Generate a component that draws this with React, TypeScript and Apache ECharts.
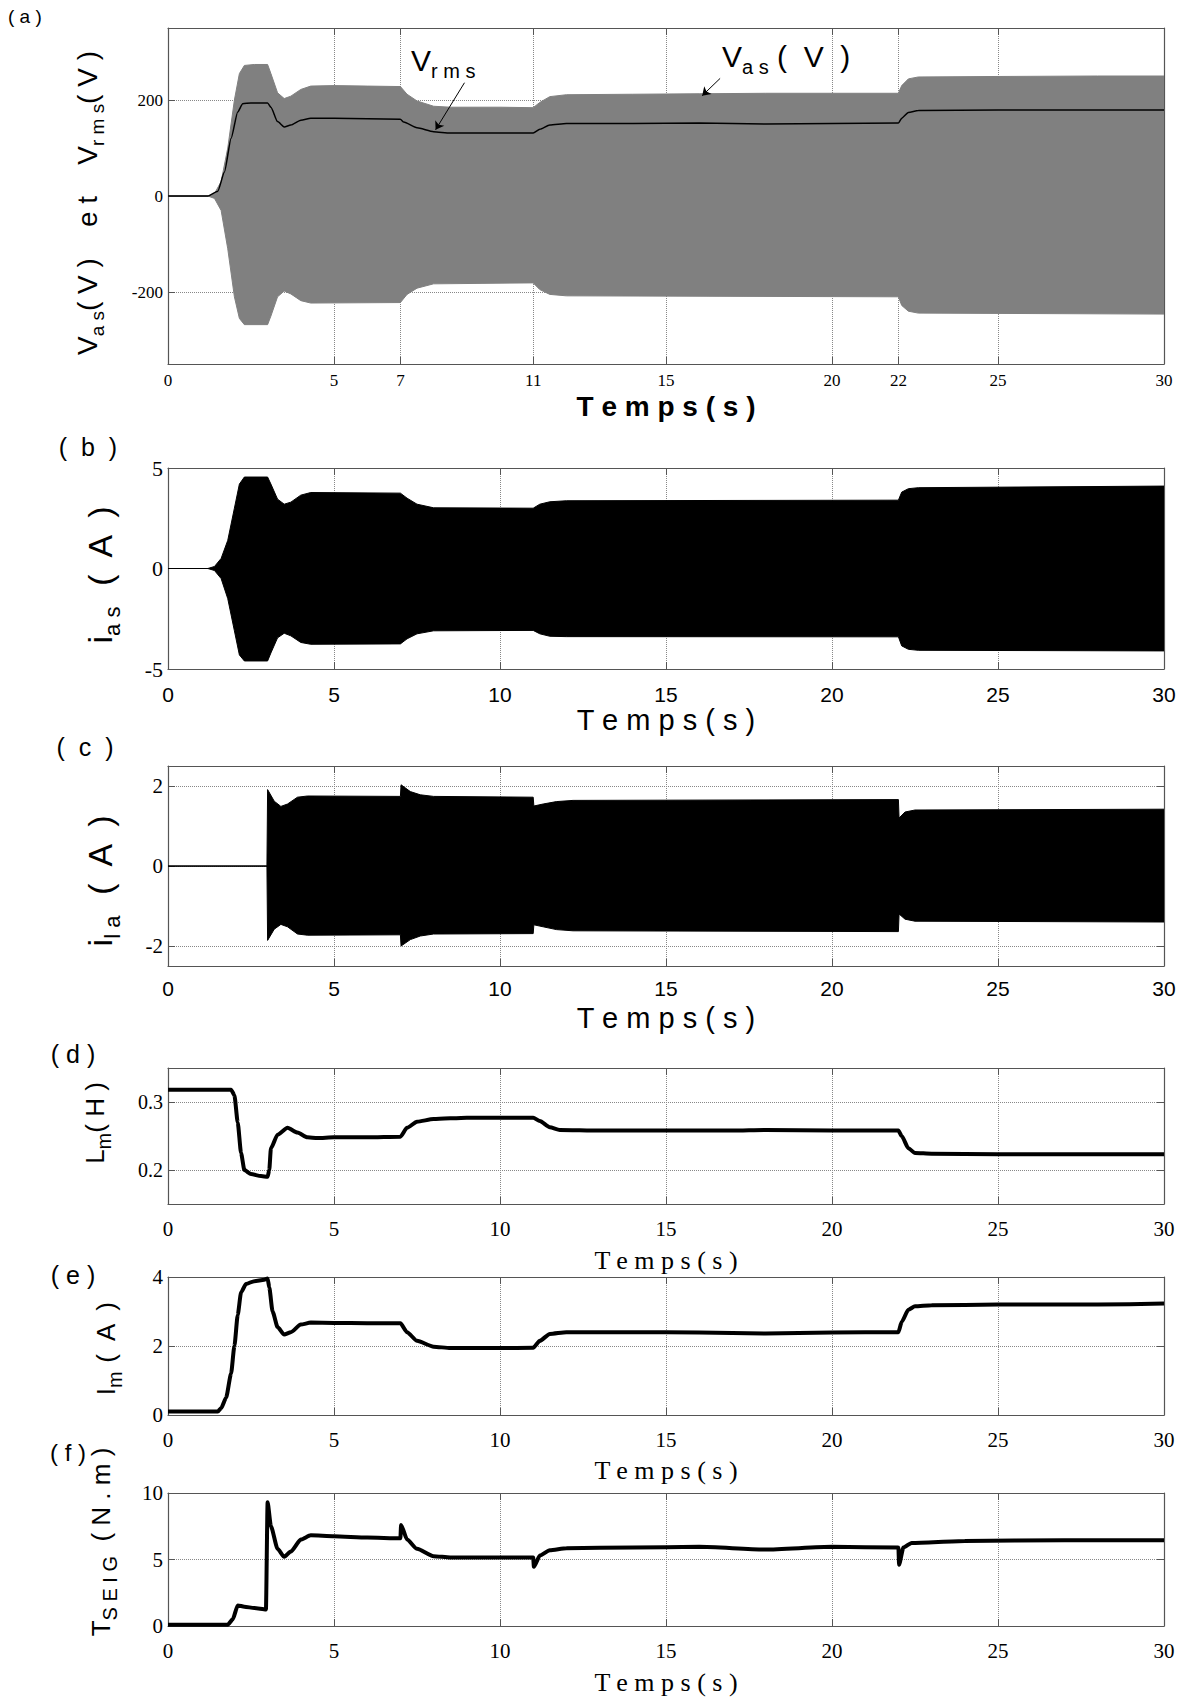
import React, { useEffect, useRef } from "react";
import * as echarts from "echarts";

// ---------- tick values ----------
const TIME_TICKS_A = [0, 5, 7, 11, 15, 20, 22, 25, 30];
const VAS_TICKS = [-200, 0, 200];
const ILA_TICKS = [-2, 0, 2];
const LM_TICKS = [0.2, 0.3];

// ---------- (a) stator voltage envelope + rms ----------
const VAS_UPPER: [number, number][] = [
  [0, 0], [1.2, 0], [1.4, 5], [1.6, 30], [1.8, 100], [2.0, 200], [2.15, 255], [2.3, 272], [2.6, 274], [3.0, 274],
  [3.1, 255], [3.3, 215], [3.5, 203], [3.7, 208], [4.0, 222], [4.3, 229], [5, 230], [6, 229], [7, 228],
  [7.2, 212], [7.5, 198], [8.0, 187], [8.5, 185], [10, 185], [11, 184], [11.2, 195], [11.5, 207], [12, 211],
  [14, 212], [16, 213], [18, 214], [20, 214], [22, 214], [22.1, 230], [22.3, 244], [22.6, 248], [25, 249], [28, 250], [30, 250],
];
const VAS_LOWER: [number, number][] = [
  [0, 0], [1.2, 0], [1.4, -5], [1.6, -30], [1.8, -110], [2.0, -210], [2.15, -255], [2.3, -268], [3.0, -268],
  [3.1, -250], [3.3, -210], [3.5, -198], [3.7, -204], [4.0, -218], [4.3, -223], [7, -222], [7.2, -205], [7.5, -192],
  [8, -183], [11, -181], [11.2, -195], [11.5, -205], [12, -208], [22, -210], [22.1, -228], [22.3, -240], [22.6, -244], [30, -246],
];
const VRMS: [number, number][] = [
  [0, 0], [1.2, 0], [1.5, 10], [1.7, 50], [1.9, 120], [2.1, 175], [2.25, 192], [2.5, 194], [3.0, 194], [3.1, 185],
  [3.3, 155], [3.5, 144], [3.7, 148], [4.0, 158], [4.3, 162], [5, 162], [6, 161], [7, 160], [7.1, 154], [7.5, 142],
  [8, 134], [8.5, 131], [10, 131], [11, 131], [11.2, 139], [11.5, 148], [12, 151], [14, 151], [16, 152], [18, 150],
  [20, 151], [22, 152], [22.1, 162], [22.3, 174], [22.6, 178], [25, 179], [30, 179],
];
const VRMS_ARROW: [number, number][] = [[8.93, 236], [8.06, 138]];
const VAS_ARROW: [number, number][] = [[16.63, 245], [16.09, 209]];

// ---------- (b) stator current envelope ----------
const IAS_UPPER: [number, number][] = [
  [0, 0], [1.2, 0], [1.4, 0.1], [1.6, 0.5], [1.8, 1.4], [2.0, 3.0], [2.15, 4.2], [2.3, 4.55], [3.0, 4.55], [3.1, 4.2],
  [3.3, 3.45], [3.5, 3.2], [3.7, 3.3], [4.0, 3.65], [4.3, 3.78], [7, 3.75], [7.2, 3.5], [7.5, 3.2], [8, 3.02], [11, 3.0],
  [11.2, 3.2], [11.5, 3.32], [12, 3.37], [22, 3.4], [22.1, 3.8], [22.3, 3.97], [22.6, 4.02], [30, 4.1],
];
const IAS_LOWER: [number, number][] = [
  [0, 0], [1.2, 0], [1.4, -0.1], [1.6, -0.5], [1.8, -1.5], [2.0, -3.1], [2.15, -4.3], [2.3, -4.6], [3.0, -4.6], [3.1, -4.2],
  [3.3, -3.45], [3.5, -3.22], [3.7, -3.35], [4.0, -3.68], [4.3, -3.77], [7, -3.75], [7.2, -3.5], [7.5, -3.25], [8, -3.1],
  [11, -3.08], [11.2, -3.25], [11.5, -3.37], [12, -3.39], [22, -3.4], [22.1, -3.85], [22.3, -4.02], [22.6, -4.07], [30, -4.1],
];

// ---------- (c) load current envelope ----------
const ILA_UPPER: [number, number][] = [
  [0, 0], [2.98, 0], [3.0, 1.91], [3.2, 1.62], [3.4, 1.49], [3.6, 1.55], [3.9, 1.72], [4.2, 1.75], [7, 1.74], [7.02, 2.03],
  [7.3, 1.86], [7.6, 1.78], [8, 1.74], [11, 1.72], [11.02, 1.5], [11.3, 1.55], [11.7, 1.61], [12.2, 1.64], [22, 1.66],
  [22.02, 1.2], [22.2, 1.35], [22.5, 1.4], [30, 1.42],
];
const ILA_LOWER: [number, number][] = [
  [0, 0], [2.98, 0], [3.0, -1.86], [3.2, -1.58], [3.4, -1.46], [3.6, -1.52], [3.9, -1.7], [4.2, -1.73], [7, -1.72],
  [7.02, -2.0], [7.3, -1.84], [7.6, -1.75], [8, -1.7], [11, -1.69], [11.02, -1.47], [11.3, -1.52], [11.7, -1.59],
  [12.2, -1.62], [22, -1.64], [22.02, -1.2], [22.2, -1.33], [22.5, -1.38], [30, -1.4],
];

// ---------- (d) magnetizing inductance ----------
const LM: [number, number][] = [
  [0, 0.318], [1.9, 0.318], [2.0, 0.31], [2.1, 0.27], [2.2, 0.225], [2.3, 0.2], [2.5, 0.194], [2.8, 0.191], [3.0, 0.19],
  [3.05, 0.2], [3.1, 0.232], [3.3, 0.252], [3.6, 0.262], [3.9, 0.255], [4.2, 0.248], [4.5, 0.247], [5, 0.248], [6, 0.248],
  [7, 0.249], [7.2, 0.262], [7.5, 0.271], [8, 0.275], [9, 0.277], [10, 0.277], [11, 0.277], [11.2, 0.272], [11.5, 0.263],
  [11.8, 0.259], [13, 0.258], [15, 0.258], [17, 0.258], [18, 0.259], [20, 0.258], [22, 0.258], [22.1, 0.25], [22.3, 0.232],
  [22.5, 0.225], [23, 0.224], [25, 0.223], [30, 0.223],
];

// ---------- (e) magnetizing current ----------
const IM: [number, number][] = [
  [0, 0.1], [1.5, 0.1], [1.6, 0.2], [1.75, 0.5], [1.9, 1.2], [2.0, 2.0], [2.1, 2.9], [2.2, 3.55], [2.35, 3.8], [2.6, 3.88],
  [2.9, 3.92], [3.0, 3.96], [3.05, 3.7], [3.15, 3.0], [3.3, 2.55], [3.5, 2.33], [3.7, 2.4], [4.0, 2.62], [4.3, 2.68],
  [5, 2.67], [6, 2.66], [7, 2.66], [7.2, 2.4], [7.5, 2.15], [8, 1.98], [8.5, 1.94], [10, 1.94], [11, 1.95], [11.2, 2.15],
  [11.5, 2.35], [12, 2.4], [14, 2.4], [16, 2.39], [18, 2.36], [20, 2.39], [22, 2.4], [22.1, 2.7], [22.3, 3.05], [22.5, 3.15],
  [23, 3.18], [25, 3.2], [28, 3.2], [30, 3.23],
];

// ---------- (f) SEIG torque ----------
const TSEIG: [number, number][] = [
  [0, 0.1], [1.8, 0.1], [1.95, 0.5], [2.1, 1.55], [2.3, 1.45], [2.6, 1.35], [2.95, 1.25], [3.0, 9.3], [3.1, 7.5], [3.3, 5.8],
  [3.5, 5.2], [3.7, 5.6], [4.0, 6.5], [4.3, 6.82], [5, 6.75], [6, 6.65], [7, 6.6], [7.02, 7.6], [7.2, 6.5], [7.5, 5.8],
  [8, 5.25], [8.5, 5.15], [10, 5.15], [11, 5.15], [11.02, 4.45], [11.2, 5.3], [11.5, 5.7], [12, 5.85], [14, 5.9], [16, 5.95],
  [18, 5.75], [20, 5.95], [22, 5.9], [22.02, 4.6], [22.15, 5.9], [22.4, 6.25], [24, 6.4], [27, 6.45], [30, 6.45],
];

const SANS = "'Liberation Sans', Arial, Helvetica, sans-serif";
const SERIF = "'Liberation Serif', 'Times New Roman', serif";
const AXIS_COLOR = "#555";
const GRID_COLOR = "#888";
const GREY = "#808080";

const PLOT_LEFT = 168;
const PLOT_WIDTH = 996;
const GRID_TOPS = [28, 468, 766, 1068, 1277, 1493];
const GRID_HEIGHTS = [336, 201, 200, 136, 138, 133];

type PanelCfg = {
  xTicks?: number[];
  xFont: string;
  xSize: number;
  xMargin: number;
  yMin: number;
  yMax: number;
  yTicks?: number[];
  yInterval?: number;
  yFont: string;
  ySize: number;
};

const PANELS: PanelCfg[] = [
  { xTicks: TIME_TICKS_A, xFont: SERIF, xSize: 17, xMargin: 8, yMin: -350, yMax: 350, yTicks: VAS_TICKS, yFont: SERIF, ySize: 17 },
  { xFont: SANS, xSize: 21, xMargin: 15, yMin: -5, yMax: 5, yInterval: 5, yFont: SERIF, ySize: 22 },
  { xFont: SANS, xSize: 21, xMargin: 12, yMin: -2.5, yMax: 2.5, yTicks: ILA_TICKS, yFont: SERIF, ySize: 21 },
  { xFont: SERIF, xSize: 21, xMargin: 14, yMin: 0.15, yMax: 0.35, yTicks: LM_TICKS, yFont: SERIF, ySize: 20 },
  { xFont: SERIF, xSize: 21, xMargin: 14, yMin: 0, yMax: 4, yInterval: 2, yFont: SERIF, ySize: 21 },
  { xFont: SERIF, xSize: 21, xMargin: 14, yMin: 0, yMax: 10, yInterval: 5, yFont: SERIF, ySize: 21 },
];

function buildOption() {
  const grid: any[] = [];
  const xAxis: any[] = [];
  const yAxis: any[] = [];
  PANELS.forEach((p, i) => {
    grid.push({ left: PLOT_LEFT, width: PLOT_WIDTH, top: GRID_TOPS[i], height: GRID_HEIGHTS[i], show: false });
    const xTickExtra = p.xTicks ? { customValues: p.xTicks } : {};
    const yTickExtra = p.yTicks ? { customValues: p.yTicks } : {};
    const xBase: any = {
      type: "value", gridIndex: i, min: 0, max: 30,
      ...(p.xTicks ? {} : { interval: 5 }),
      axisLine: { show: true, onZero: false, lineStyle: { color: AXIS_COLOR, width: 1.2 } },
    };
    xAxis.push({
      ...xBase, position: "bottom",
      axisTick: { show: true, inside: true, length: 7, lineStyle: { color: AXIS_COLOR }, ...xTickExtra },
      axisLabel: { show: true, color: "#000", fontFamily: p.xFont, fontSize: p.xSize, margin: p.xMargin, ...xTickExtra },
      splitLine: { show: true, lineStyle: { type: "dotted", color: GRID_COLOR, width: 1 } },
    });
    xAxis.push({
      ...xBase, position: "top",
      axisTick: { show: true, inside: true, length: 7, lineStyle: { color: AXIS_COLOR }, ...xTickExtra },
      axisLabel: { show: false },
      splitLine: { show: false },
    });
    const yBase: any = {
      type: "value", gridIndex: i, min: p.yMin, max: p.yMax,
      ...(p.yInterval ? { interval: p.yInterval } : {}),
      axisLine: { show: true, onZero: false, lineStyle: { color: AXIS_COLOR, width: 1.2 } },
    };
    yAxis.push({
      ...yBase, position: "left",
      axisTick: { show: true, inside: true, length: 7, lineStyle: { color: AXIS_COLOR }, ...yTickExtra },
      axisLabel: { show: true, color: "#000", fontFamily: p.yFont, fontSize: p.ySize, margin: 5, ...yTickExtra },
      splitLine: { show: true, lineStyle: { type: "dotted", color: GRID_COLOR, width: 1 } },
    });
    yAxis.push({
      ...yBase, position: "right",
      axisTick: { show: true, inside: true, length: 7, lineStyle: { color: AXIS_COLOR }, ...yTickExtra },
      axisLabel: { show: false },
      splitLine: { show: false },
    });
  });

  // origin of the upper envelope reaches a hair below zero so that the two halves overlap (no seam)
  const area = (i: number, data: [number, number][], color: string, name: string, origin: any) => ({
    name, type: "line", xAxisIndex: 2 * i, yAxisIndex: 2 * i, data,
    showSymbol: false, symbol: "none", smooth: false,
    lineStyle: { color, width: 1 },
    areaStyle: { color, opacity: 1, origin },
    z: 2,
  });
  const curve = (i: number, data: [number, number][], width: number, name: string) => ({
    name, type: "line", xAxisIndex: 2 * i, yAxisIndex: 2 * i, data,
    showSymbol: false, symbol: "none", smooth: 0.2, smoothMonotone: "x",
    lineStyle: { color: "#000", width },
    z: 3,
  });

  const series: any[] = [
    area(0, VAS_UPPER, GREY, "Vas+", -2),
    area(0, VAS_LOWER, GREY, "Vas-", "auto"),
    {
      ...curve(0, VRMS, 1.5, "Vrms"),
      markLine: {
        silent: true, animation: false,
        symbol: ["none", "arrow"], symbolSize: 8,
        label: { show: false },
        emphasis: { disabled: true },
        lineStyle: { color: "#000", width: 1, type: "solid" },
        data: [
          [{ coord: VRMS_ARROW[0] }, { coord: VRMS_ARROW[1] }],
          [{ coord: VAS_ARROW[0] }, { coord: VAS_ARROW[1] }],
        ],
      },
    },
    area(1, IAS_UPPER, "#000", "ias+", -0.03),
    area(1, IAS_LOWER, "#000", "ias-", "auto"),
    area(2, ILA_UPPER, "#000", "ila+", -0.012),
    area(2, ILA_LOWER, "#000", "ila-", "auto"),
    curve(3, LM, 4, "Lm"),
    curve(4, IM, 4, "Im"),
    curve(5, TSEIG, 4, "Tseig"),
  ];

  const subRich = (main: number, sub: number) => ({
    m: { fontSize: main, fontFamily: SANS, color: "#000", lineHeight: main + 12, verticalAlign: "middle" },
    s: { fontSize: sub, fontFamily: SANS, color: "#000", lineHeight: Math.round(sub * 0.8), verticalAlign: "bottom" },
  });

  const yTitle = (x: number, y: number, text: string, main: number, sub: number) => ({
    type: "text", x, y, rotation: Math.PI / 2,
    style: { text, rich: subRich(main, sub), align: "center", verticalAlign: "middle" },
  });
  const plain = (x: number, y: number, text: string, font: string, size: number, weight = "normal", align = "center") => ({
    type: "text", x, y,
    style: { text, fontFamily: font, fontSize: size, fontWeight: weight, fill: "#000", align, verticalAlign: "middle" },
  });

  const graphic: any[] = [
    // panel tags
    plain(8, 16, "( a )", SANS, 19, "normal", "left"),
    plain(88, 447, "(  b  )", SANS, 25),
    plain(85, 747, "(  c  )", SANS, 25),
    plain(73, 1054, "( d )", SANS, 25),
    plain(73, 1275, "( e )", SANS, 25),
    plain(68, 1452, "( f )", SANS, 24),
    // x titles
    plain(666, 406, "T e m p s ( s )", SANS, 28, "bold"),
    plain(666, 720, "T e m p s ( s )", SANS, 29),
    plain(666, 1018, "T e m p s ( s )", SANS, 29),
    plain(666, 1260, "T e m p s ( s )", SERIF, 26),
    plain(666, 1470, "T e m p s ( s )", SERIF, 26),
    plain(666, 1682, "T e m p s ( s )", SERIF, 26),
    // y titles
    yTitle(87, 203, "{m|V}{s|a s}{m|( V )    e t    V}{s|r m s}{m|( V )}", 28, 19),
    yTitle(100, 574, "{m|i}{s|a s}{m|  (  A  )}", 34, 22),
    yTitle(100, 880, "{m|i}{s|l a}{m|  (  A  )}", 34, 22),
    yTitle(95, 1123, "{m|L}{s|m}{m|( H )}", 26, 20),
    yTitle(106, 1348, "{m|I}{s|m}{m| (  A  )}", 26, 20),
    yTitle(101, 1542, "{m|T}{s|S E I G}{m|  ( N . m )}", 26, 20),
    // annotations in (a)
    {
      type: "text", x: 411, y: 60,
      style: { text: "{m|V}{s|r m s}", rich: subRich(30, 20), align: "left", verticalAlign: "middle" },
    },
    {
      type: "text", x: 722, y: 56,
      style: { text: "{m|V}{s|a s}{m| (  V  )}", rich: subRich(30, 20), align: "left", verticalAlign: "middle" },
    },
  ];

  return {
    animation: false,
    backgroundColor: "#fff",
    grid, xAxis, yAxis, series, graphic,
  };
}

export default function App() {
  const ref = useRef<HTMLDivElement>(null);
  useEffect(() => {
    if (!ref.current) return;
    const chart = echarts.init(ref.current, undefined, { renderer: "svg" });
    chart.setOption(buildOption() as any);
    return () => chart.dispose();
  }, []);
  return (
    <div
      ref={ref}
      style={{ position: "absolute", left: 0, top: 0, width: 1188, height: 1698, background: "#fff" }}
    />
  );
}
